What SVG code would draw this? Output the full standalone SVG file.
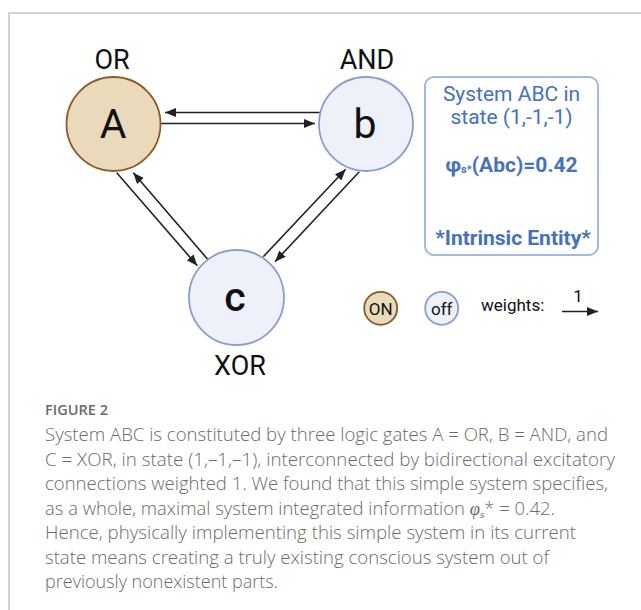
<svg xmlns="http://www.w3.org/2000/svg" width="641" height="610" viewBox="0 0 641 610">
<style>
.lbl{font-family:Roboto,"Liberation Sans",sans-serif;font-size:27px;fill:#111;text-anchor:middle}
.big{font-family:Roboto,"Liberation Sans",sans-serif;font-size:41px;fill:#111;text-anchor:middle}
.on{fill:#ead9bb;stroke:#8c5a2a;stroke-width:1.8}
.off{fill:#eef1fa;stroke:#8b9dc9;stroke-width:1.8}
.edge{stroke:#222;stroke-width:1.6;fill:none;marker-end:url(#ah)}
.info{font-family:Roboto,"Liberation Sans",sans-serif;font-size:21px;fill:#4672b9;text-anchor:middle}
.leg{font-family:Roboto,"Liberation Sans",sans-serif;font-size:17px;fill:#111}
.cap{font-family:"Open Sans","Liberation Sans",sans-serif;font-size:18px;font-weight:300;fill:#6b6b6b}
</style>
<defs>
<marker id="ah" markerUnits="userSpaceOnUse" markerWidth="12" markerHeight="10" refX="11" refY="4.5" orient="auto">
<path d="M0,0 L11,4.5 L0,9 Z" fill="#222"/>
</marker>
</defs>
<rect width="641" height="610" fill="#fff"/>
<path d="M9,610 V13 H641" fill="none" stroke="#c4c4c4" stroke-width="1.5"/>

<g id="connectors">
<line class="edge" x1="320" y1="112.5" x2="165" y2="112.5"/>
<line class="edge" x1="161" y1="123.5" x2="315" y2="123.5"/>
<line class="edge" x1="116.7" y1="172.7" x2="197.3" y2="265.7"/>
<line class="edge" x1="208.3" y1="260" x2="133.3" y2="172.7"/>
<line class="edge" x1="263.3" y1="256.7" x2="345.7" y2="169.3"/>
<line class="edge" x1="359.3" y1="171.7" x2="275" y2="261.7"/>
</g>

<g id="nodeA">
<circle class="on" cx="113.5" cy="124" r="47"/>
<text class="big" x="113" y="138">A</text>
<text class="lbl" x="112" y="69">OR</text>
</g>
<g id="nodeB">
<circle class="off" cx="366" cy="124" r="47"/>
<text class="big" x="365" y="138">b</text>
<text class="lbl" x="367" y="69">AND</text>
</g>
<g id="nodeC">
<circle class="off" cx="236.5" cy="297.5" r="47.5"/>
<text class="big" x="235" y="311" font-weight="500">c</text>
<text class="lbl" x="240" y="375">XOR</text>
</g>

<g id="infobox">
<rect x="425" y="77" width="173" height="178" rx="9" fill="#fff" stroke="#a3b7df" stroke-width="2"/>
<text class="info" x="511.5" y="101">System ABC in</text>
<text class="info" x="511.5" y="124">state (1,-1,-1)</text>
<text class="info" x="511.5" y="172" font-weight="700">φ<tspan font-size="11" dy="1">s*</tspan><tspan dy="-1">(Abc)=0.42</tspan></text>
<text class="info" x="513" y="245" font-weight="700">*Intrinsic Entity*</text>
</g>

<g id="legend">
<circle class="on" cx="380.7" cy="308.3" r="16.5" stroke-width="1.3"/>
<text class="leg" x="380.7" y="314.5" text-anchor="middle">ON</text>
<circle class="off" cx="441.7" cy="308.3" r="16.5" stroke-width="1.3"/>
<text class="leg" x="441.7" y="314.5" text-anchor="middle">off</text>
<text class="leg" x="481" y="311">weights:</text>
<line class="edge" x1="562" y1="311.5" x2="598" y2="311.5"/>
<text class="leg" x="578" y="302" text-anchor="middle">1</text>
</g>

<g id="caption">
<text x="45" y="415" font-family="'Open Sans','Liberation Sans',sans-serif" font-size="14" font-weight="600" fill="#6b6b6b" textLength="63" lengthAdjust="spacingAndGlyphs">FIGURE 2</text>
<text class="cap" x="45" y="441" textLength="563" lengthAdjust="spacingAndGlyphs">System ABC is constituted by three logic gates A = OR, B = AND, and</text>
<text class="cap" x="45" y="465.5" textLength="570" lengthAdjust="spacingAndGlyphs">C = XOR, in state (1,–1,–1), interconnected by bidirectional excitatory</text>
<text class="cap" x="45" y="490" textLength="563" lengthAdjust="spacingAndGlyphs">connections weighted 1. We found that this simple system specifies,</text>
<text class="cap" x="45" y="514.5" textLength="510" lengthAdjust="spacingAndGlyphs">as a whole, maximal system integrated information <tspan font-family="'Liberation Serif',serif" font-style="italic">φ</tspan><tspan font-family="'Liberation Serif',serif" font-style="italic" font-size="11" dy="3">s</tspan><tspan dy="-3">* = 0.42.</tspan></text>
<text class="cap" x="45" y="539" textLength="531" lengthAdjust="spacingAndGlyphs">Hence, physically implementing this simple system in its current</text>
<text class="cap" x="45" y="563.5" textLength="504" lengthAdjust="spacingAndGlyphs">state means creating a truly existing conscious system out of</text>
<text class="cap" x="45" y="588" textLength="233" lengthAdjust="spacingAndGlyphs">previously nonexistent parts.</text>
</g>
</svg>
